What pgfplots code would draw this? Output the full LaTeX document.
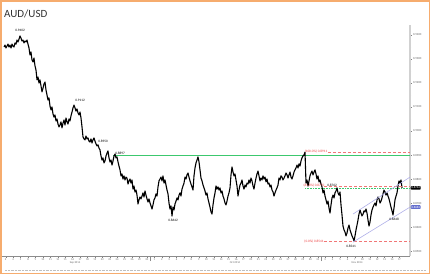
\documentclass[border=0pt]{standalone}
\usepackage{pgfplots}
\pgfplotsset{compat=1.18}
\usepackage{fontspec}
\setmainfont{Carlito}
\definecolor{frameorange}{RGB}{246,172,110}
\definecolor{fibred}{RGB}{235,60,60}
\definecolor{resgreen}{RGB}{60,200,110}
\definecolor{chan}{RGB}{175,175,232}
\definecolor{tagblue}{RGB}{100,110,205}
\newcommand{\tinyf}{\fontsize{3.4}{4}\selectfont}
\begin{document}
\begin{tikzpicture}
\begin{axis}[
  scale only axis, width=408pt, height=231pt,
  xmin=2, xmax=410, ymin=0.8479167, ymax=0.9441667,
  axis x line*=bottom, axis y line*=right,
  x axis line style={black!45, line width=0.4pt, -},
  y axis line style={black!18, line width=1.6pt, -},
  xtick={5.7,13.13,...,400},
  xticklabels={3,4,5,8,9,10,11,12,15,16,17,18,19,22,23,24,25,26,29,30,1,2,3,6,7,8,9,10,13,14,15,16,17,20,21,22,23,24,27,28,29,30,31,3,4,5,6,7,10,11,12,13,14,17},
  x tick label style={font=\fontsize{2.8}{3}\selectfont, text=black!60, inner sep=0.5pt},
  ytick={0.85,0.86,0.87,0.88,0.89,0.90,0.91,0.92,0.93,0.94},
  y tick label style={/pgf/number format/fixed, /pgf/number format/fixed zerofill, /pgf/number format/precision=4, /pgf/number format/assume math mode=true, font=\fontsize{3}{3.5}\selectfont, text=black!60, inner sep=1pt},
  tick align=outside, major tick length=1.8pt, minor tick length=1pt,
  tick style={black!50, line width=0.3pt},
  minor y tick num=1,
  clip=false,
]
% resistance line (drawn first, under the price)
\addplot[color=resgreen, line width=1.3pt] coordinates {(113,0.8897) (410,0.8897)};
\addplot[color=resgreen, densely dotted, line width=0.6pt] coordinates {(305,0.8763) (410,0.8763)};
% price series
\addplot[black, line width=1.1pt, line join=round] coordinates {
(4,0.9350) (5,0.9358) (6,0.9346) (7,0.9354) (8,0.9362) (9,0.9350) (10,0.9358) (11,0.9346) (12,0.9362) (13,0.9354)
(14,0.9350) (15,0.9367) (16,0.9362) (17,0.9379) (18,0.9371) (19,0.9383) (20,0.9396) (21,0.9387) (22,0.9375) (23,0.9379)
(24,0.9367) (25,0.9375) (26,0.9371) (27,0.9379) (28,0.9362) (29,0.9346) (30,0.9317) (31,0.9329) (32,0.9296) (33,0.9288)
(34,0.9304) (35,0.9271) (36,0.9254) (37,0.9213) (38,0.9225) (39,0.9200) (40,0.9213) (41,0.9188) (42,0.9163) (43,0.9179)
(44,0.9196) (45,0.9204) (46,0.9171) (47,0.9150) (48,0.9129) (49,0.9138) (50,0.9104) (51,0.9088) (52,0.9100) (53,0.9071)
(54,0.9058) (55,0.9067) (56,0.9042) (57,0.9050) (58,0.9029) (59,0.9017) (60,0.9025) (61,0.9038) (62,0.9013) (63,0.9033)
(64,0.9046) (65,0.9025) (66,0.9054) (67,0.9038) (68,0.9029) (69,0.9050) (70,0.9042) (71,0.9063) (72,0.9079) (73,0.9096)
(74,0.9108) (75,0.9096) (76,0.9083) (77,0.9092) (78,0.9075) (79,0.9067) (80,0.9079) (81,0.9054) (82,0.9017) (83,0.8975)
(84,0.8967) (85,0.8963) (86,0.8979) (87,0.8967) (88,0.8971) (89,0.8958) (90,0.8954) (91,0.8967) (92,0.8950) (93,0.8963)
(94,0.8971) (95,0.8958) (96,0.8946) (97,0.8938) (98,0.8942) (99,0.8929) (100,0.8921) (101,0.8896) (102,0.8879) (103,0.8888)
(104,0.8867) (105,0.8875) (106,0.8896) (107,0.8908) (108,0.8917) (109,0.8888) (110,0.8871) (111,0.8879) (112,0.8858) (113,0.8875)
(114,0.8896) (115,0.8904) (116,0.8888) (117,0.8892) (118,0.8871) (119,0.8854) (120,0.8838) (121,0.8813) (122,0.8821) (123,0.8800)
(124,0.8813) (125,0.8796) (126,0.8808) (127,0.8804) (128,0.8779) (129,0.8792) (130,0.8800) (131,0.8783) (132,0.8796) (133,0.8758)
(134,0.8771) (135,0.8746) (136,0.8754) (137,0.8733) (138,0.8696) (139,0.8713) (140,0.8725) (141,0.8717) (142,0.8729) (143,0.8742)
(144,0.8725) (145,0.8750) (146,0.8733) (147,0.8717) (148,0.8704) (149,0.8717) (150,0.8700) (151,0.8688) (152,0.8675) (153,0.8692)
(154,0.8713) (155,0.8721) (156,0.8738) (157,0.8729) (158,0.8767) (159,0.8792) (160,0.8800) (161,0.8808) (162,0.8792) (163,0.8813)
(164,0.8783) (165,0.8796) (166,0.8775) (167,0.8754) (168,0.8738) (169,0.8700) (170,0.8675) (171,0.8688) (172,0.8646) (173,0.8683)
(174,0.8671) (175,0.8696) (176,0.8708) (177,0.8721) (178,0.8713) (179,0.8733) (180,0.8742) (181,0.8729) (182,0.8758) (183,0.8771)
(184,0.8783) (185,0.8808) (186,0.8800) (187,0.8817) (188,0.8825) (189,0.8808) (190,0.8792) (191,0.8779) (192,0.8767) (193,0.8754)
(194,0.8813) (195,0.8846) (196,0.8867) (197,0.8879) (198,0.8892) (199,0.8871) (200,0.8838) (201,0.8804) (202,0.8792) (203,0.8775)
(204,0.8763) (205,0.8750) (206,0.8733) (207,0.8742) (208,0.8717) (209,0.8700) (210,0.8683) (211,0.8663) (212,0.8654) (213,0.8692)
(214,0.8721) (215,0.8742) (216,0.8771) (217,0.8758) (218,0.8767) (219,0.8754) (220,0.8763) (221,0.8742) (222,0.8750) (223,0.8729)
(224,0.8717) (225,0.8700) (226,0.8692) (227,0.8708) (228,0.8729) (229,0.8742) (230,0.8763) (231,0.8817) (232,0.8850) (233,0.8829)
(234,0.8813) (235,0.8821) (236,0.8796) (237,0.8771) (238,0.8729) (239,0.8754) (240,0.8775) (241,0.8783) (242,0.8796) (243,0.8771)
(244,0.8758) (245,0.8775) (246,0.8767) (247,0.8783) (248,0.8779) (249,0.8796) (250,0.8783) (251,0.8804) (252,0.8792) (253,0.8771)
(254,0.8758) (255,0.8783) (256,0.8804) (257,0.8821) (258,0.8833) (259,0.8813) (260,0.8792) (261,0.8804) (262,0.8796) (263,0.8813)
(264,0.8800) (265,0.8808) (266,0.8788) (267,0.8800) (268,0.8779) (269,0.8783) (270,0.8767) (271,0.8775) (272,0.8754) (273,0.8746)
(274,0.8729) (275,0.8742) (276,0.8754) (277,0.8763) (278,0.8775) (279,0.8804) (280,0.8796) (281,0.8813) (282,0.8808) (283,0.8796)
(284,0.8804) (285,0.8813) (286,0.8825) (287,0.8817) (288,0.8804) (289,0.8817) (290,0.8829) (291,0.8808) (292,0.8800) (293,0.8813)
(294,0.8829) (295,0.8838) (296,0.8846) (297,0.8858) (298,0.8846) (299,0.8863) (300,0.8854) (301,0.8875) (302,0.8888) (303,0.8896)
(304,0.8900) (305,0.8912) (306,0.8783) (307,0.8796) (308,0.8771) (309,0.8792) (310,0.8813) (311,0.8825) (312,0.8833) (313,0.8817)
(314,0.8829) (315,0.8838) (316,0.8821) (317,0.8800) (318,0.8813) (319,0.8788) (320,0.8796) (321,0.8779) (322,0.8767) (323,0.8742)
(324,0.8754) (325,0.8729) (326,0.8713) (327,0.8696) (328,0.8708) (329,0.8679) (330,0.8658) (331,0.8692) (332,0.8721) (333,0.8733)
(334,0.8721) (335,0.8742) (336,0.8750) (337,0.8763) (338,0.8742) (339,0.8733) (340,0.8746) (341,0.8692) (342,0.8650) (343,0.8604)
(344,0.8588) (345,0.8579) (346,0.8563) (347,0.8575) (348,0.8596) (349,0.8608) (350,0.8588) (351,0.8575) (352,0.8563) (353,0.8554)
(354,0.8542) (355,0.8563) (356,0.8588) (357,0.8608) (358,0.8629) (359,0.8654) (360,0.8671) (361,0.8658) (362,0.8646) (363,0.8654)
(364,0.8667) (365,0.8663) (366,0.8675) (367,0.8658) (368,0.8629) (369,0.8604) (370,0.8621) (371,0.8650) (372,0.8671) (373,0.8683)
(374,0.8692) (375,0.8700) (376,0.8688) (377,0.8713) (378,0.8725) (379,0.8717) (380,0.8700) (381,0.8708) (382,0.8721) (383,0.8738)
(384,0.8754) (385,0.8746) (386,0.8733) (387,0.8742) (388,0.8729) (389,0.8717) (390,0.8700) (391,0.8683) (392,0.8667) (393,0.8650)
(394,0.8679) (395,0.8713) (396,0.8729) (397,0.8742) (398,0.8771) (399,0.8792) (400,0.8783) (401,0.8796) (402,0.8763)
};
% fibonacci levels
\addplot[color=fibred!70, densely dashed, line width=0.4pt] coordinates {(328,0.8911) (410,0.8911)};
\addplot[color=fibred!70, densely dashed, line width=0.4pt] coordinates {(324,0.8770) (410,0.8770)};
\addplot[color=fibred!70, densely dashed, line width=0.4pt] coordinates {(324,0.8541) (410,0.8541)};
% channel
\addplot[color=chan, line width=0.6pt] coordinates {(353,0.8654) (410,0.8808)};
\addplot[color=chan, line width=0.6pt] coordinates {(353,0.8537) (410,0.8683)};
% labels
\node[font=\tinyf, fibred] at (axis cs:316,0.8914) {(100.0\%) 0.8911};
\node[font=\tinyf, fibred] at (axis cs:314,0.8773) {(61.8\%) 0.8770};
\node[font=\tinyf, fibred] at (axis cs:314,0.8541) {(0.0\%) 0.8541};
\node[font=\tinyf] at (axis cs:20,0.9421) {0.9402};
\node[font=\tinyf] at (axis cs:80,0.9129) {0.9112};
\node[font=\tinyf] at (axis cs:103,0.8958) {0.8950};
\node[font=\tinyf] at (axis cs:120,0.8908) {0.8897};
\node[font=\tinyf] at (axis cs:173,0.8629) {0.8642};
\node[font=\tinyf] at (axis cs:332,0.8773) {0.8762};
\node[font=\tinyf] at (axis cs:351,0.8521) {0.8541};
\node[font=\tinyf] at (axis cs:394,0.8633) {0.8648};
% price tags
\node[fill=black, text=white, rounded corners=0.8pt, inner sep=0.8pt, font=\fontsize{3}{3.5}\selectfont, anchor=west] at (axis cs:410.5,0.8763) {0.8763};
\node[fill=tagblue, text=white, rounded corners=0.8pt, inner sep=0.8pt, font=\fontsize{3}{3.5}\selectfont, anchor=west] at (axis cs:410.5,0.8683) {0.8683};
% month separators and labels
\draw[black!45, line width=0.3pt] ([yshift=-5pt]axis cs:150.6,0.8479167) -- (axis cs:150.6,0.8479167);
\draw[black!45, line width=0.3pt] ([yshift=-5pt]axis cs:321.5,0.8479167) -- (axis cs:321.5,0.8479167);
\node[font=\fontsize{2.8}{3}\selectfont, text=black!60] at ([yshift=-6.5pt]axis cs:75,0.8479167) {Sep 2014};
\node[font=\fontsize{2.8}{3}\selectfont, text=black!60] at ([yshift=-6.5pt]axis cs:235,0.8479167) {Oct 2014};
\node[font=\fontsize{2.8}{3}\selectfont, text=black!60] at ([yshift=-6.5pt]axis cs:357,0.8479167) {Nov 2014};
\end{axis}
\node[anchor=west, inner sep=0pt, font=\fontsize{11}{13}\selectfont, text=black!80] at (2pt,242pt) {AUD/USD};
\draw[black!25, densely dotted, line width=0.4pt] (3pt,-14pt) -- (424pt,-14pt);
\pgfresetboundingbox
\path[use as bounding box] (-2pt,-18pt) rectangle (428pt,256pt);
\draw[frameorange, line width=1.5pt] (-1.25pt,-17.25pt) rectangle (427.25pt,255.25pt);
\end{tikzpicture}
\end{document}
